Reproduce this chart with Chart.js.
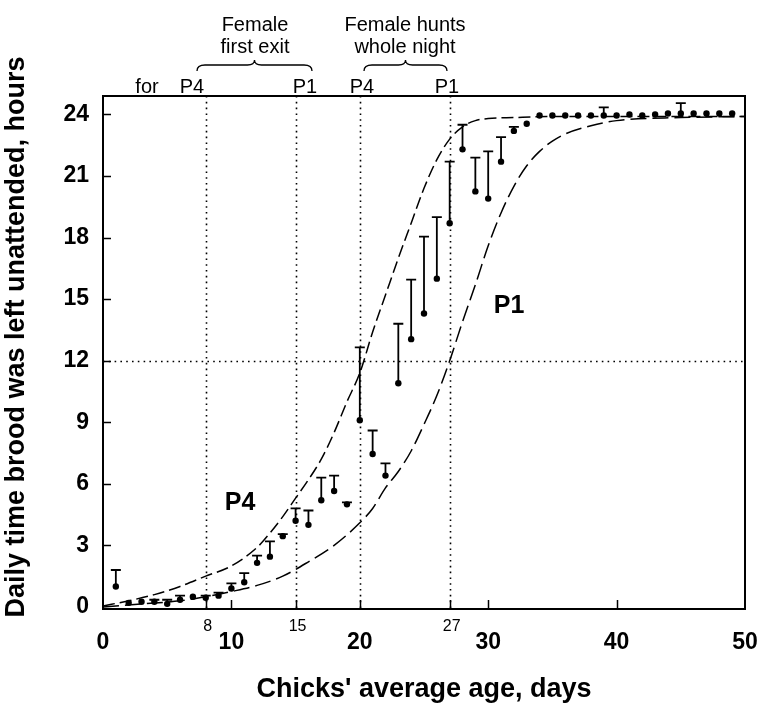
<!DOCTYPE html>
<html>
<head>
<meta charset="utf-8">
<script src="https://cdn.jsdelivr.net/npm/chart.js@4.4.1/dist/chart.umd.min.js"></script>
<style>
  html, body { margin: 0; padding: 0; background: #fff; }
  canvas { display: block; }
</style>
</head>
<body>
<canvas id="broodChart" width="757" height="706"></canvas>
<script>
// observed daily means and upper error bars (hours), one per day of chick age
const days = [1, 2, 3, 4, 5, 6, 7, 8, 9, 10, 11, 12, 13, 14, 15, 16, 17, 18, 19, 20,
  21, 22, 23, 24, 25, 26, 27, 28, 29, 30, 31, 32, 33, 34, 35, 36, 37, 38, 39, 40,
  41, 42, 43, 44, 45, 46, 47, 48, 49];
const meanHours = [1.0, 0.2, 0.25, 0.25, 0.15, 0.35, 0.5, 0.45, 0.55, 0.9,
  1.2, 2.15, 2.45, 3.45, 4.2, 4.0, 5.2, 5.65, 5.0, 9.1,
  7.45, 6.4, 10.9, 13.05, 14.3, 16.0, 18.7, 22.3, 20.25, 19.9,
  21.7, 23.2, 23.55, 23.95, 23.95, 23.95, 23.95, 23.95, 23.95, 23.95,
  24.0, 23.95, 24.0, 24.05, 24.05, 24.05, 24.05, 24.05, 24.05];
const upperHours = [1.8, null, null, 0.35, 0.35, 0.55, null, 0.55, 0.7, 1.15,
  1.65, 2.5, 3.2, 3.55, 4.8, 4.7, 6.3, 6.4, 5.1, 12.65,
  8.6, 7.0, 13.8, 15.95, 18.05, 19.0, 21.7, 23.5, 21.9, 22.2,
  22.9, 23.4, null, null, null, null, null, null, 24.35, null,
  null, null, null, null, 24.55, null, null, null, null];

// dashed curves for the two broods
const p4Days = [0, 2, 4, 6, 8, 10, 12, 13, 14, 15, 16, 17, 18, 19, 20, 21, 22, 23, 24, 25,
  26, 27, 28, 29, 30, 32, 35, 40, 45, 50];
const p4Hours = [0.05, 0.3, 0.6, 1.0, 1.5, 2.0, 2.9, 3.6, 4.4, 5.3, 6.2, 7.2, 8.5, 10.0, 11.4, 13.4, 15.2, 17.0, 18.7, 20.4,
  21.8, 22.8, 23.4, 23.7, 23.8, 23.85, 23.9, 23.9, 23.9, 23.9];
const p1Days = [0, 3, 6, 8, 10, 12, 14, 16, 18, 20, 21, 22, 23, 24, 25, 26, 27, 28, 29, 30,
  31, 32, 33, 34, 35, 36, 38, 40, 45, 50];
const p1Hours = [0.0, 0.15, 0.3, 0.5, 0.75, 1.05, 1.5, 2.2, 3.0, 4.1, 4.8, 5.8, 6.6, 7.6, 8.9, 10.3, 12.0, 13.9, 15.7, 17.6,
  19.2, 20.5, 21.5, 22.2, 22.7, 23.05, 23.45, 23.7, 23.85, 23.9];

// reference lines and extra axis marks
const markedDays = [8, 15, 20, 27];
const markedDayLabels = ['8', '15', '', '27'];
const halfDayHours = 12;
const extraTickDays = [8, 10, 15, 20, 27, 30, 40];

const FONT = '"Liberation Sans", Arial, Helvetica, sans-serif';

const toPoints = (xs, ys) => xs.map((x, i) => ({ x: x, y: ys[i] }));

const decorations = {
  id: 'decorations',
  beforeDatasetsDraw(chart) {
    const { ctx, chartArea: area, scales: { x, y } } = chart;
    ctx.save();
    // dotted reference lines
    ctx.strokeStyle = '#000';
    ctx.lineWidth = 1.6;
    ctx.setLineDash([1.6, 4.2]);
    markedDays.forEach(d => {
      const px = Math.round(x.getPixelForValue(d)) + 0.5;
      ctx.beginPath();
      ctx.moveTo(px, area.top);
      ctx.lineTo(px, area.bottom);
      ctx.stroke();
    });
    const py = Math.round(y.getPixelForValue(halfDayHours)) + 0.5;
    ctx.beginPath();
    ctx.moveTo(area.left, py);
    ctx.lineTo(area.right, py);
    ctx.stroke();
    ctx.setLineDash([]);

    // error bars (upper side only)
    ctx.lineWidth = 1.8;
    days.forEach((d, i) => {
      const up = upperHours[i];
      if (up == null) return;
      const px = x.getPixelForValue(d);
      const y0 = y.getPixelForValue(meanHours[i]);
      const y1 = y.getPixelForValue(up);
      ctx.beginPath();
      ctx.moveTo(px, y0);
      ctx.lineTo(px, y1);
      ctx.moveTo(px - 5, y1);
      ctx.lineTo(px + 5, y1);
      ctx.stroke();
    });
    ctx.restore();
  },
  afterDatasetsDraw(chart) {
    const { ctx, chartArea: area, scales: { x, y } } = chart;
    ctx.save();
    ctx.strokeStyle = '#000';
    ctx.fillStyle = '#000';

    // frame
    ctx.lineWidth = 2;
    ctx.strokeRect(area.left, area.top, area.right - area.left, area.bottom - area.top);

    // inward ticks
    ctx.lineWidth = 1.5;
    y.ticks.forEach(t => {
      if (t.value <= 0) return;
      const py = Math.round(y.getPixelForValue(t.value)) + 0.5;
      ctx.beginPath();
      ctx.moveTo(area.left, py);
      ctx.lineTo(area.left + 8, py);
      ctx.stroke();
    });
    extraTickDays.forEach(d => {
      const px = Math.round(x.getPixelForValue(d)) + 0.5;
      ctx.beginPath();
      ctx.moveTo(px, area.bottom);
      ctx.lineTo(px, area.bottom - 9);
      ctx.stroke();
    });

    // small labels under the axis for the marked days
    ctx.font = '16px ' + FONT;
    ctx.textAlign = 'center';
    ctx.textBaseline = 'middle';
    markedDays.forEach((d, i) => {
      if (!markedDayLabels[i]) return;
      ctx.fillText(markedDayLabels[i], x.getPixelForValue(d) + 2, 627);
    });

    // curve labels
    ctx.font = 'bold 25px ' + FONT;
    ctx.fillText('P4', 240, 503);
    ctx.fillText('P1', 509, 306);

    // annotations above the plot
    ctx.font = '20px ' + FONT;
    ctx.textBaseline = 'alphabetic';
    ctx.fillText('for', 147, 93);
    ctx.fillText('P4', 192, 93);
    ctx.fillText('P1', 305, 93);
    ctx.fillText('P4', 362, 93);
    ctx.fillText('P1', 447, 93);
    ctx.fillText('Female', 255, 31);
    ctx.fillText('first exit', 255, 53);
    ctx.fillText('Female hunts', 405, 31);
    ctx.fillText('whole night', 405, 53);

    const brace = (x1, x2) => {
      const mid = (x1 + x2) / 2;
      ctx.beginPath();
      ctx.moveTo(x1, 71);
      ctx.quadraticCurveTo(x1, 65, x1 + 8, 65);
      ctx.lineTo(mid - 7, 65);
      ctx.quadraticCurveTo(mid, 65, mid, 60);
      ctx.quadraticCurveTo(mid, 65, mid + 7, 65);
      ctx.lineTo(x2 - 8, 65);
      ctx.quadraticCurveTo(x2, 65, x2, 71);
      ctx.stroke();
    };
    ctx.lineWidth = 1.3;
    brace(197, 312);
    brace(364, 447);

    // axis titles
    ctx.font = 'bold 27px ' + FONT;
    ctx.textBaseline = 'middle';
    ctx.fillText("Chicks' average age, days", (area.left + area.right) / 2, 690);
    ctx.translate(17, 337);
    ctx.rotate(-Math.PI / 2);
    ctx.fillText('Daily time brood was left unattended, hours', 0, 0);
    ctx.restore();
  }
};

const tickFont = { family: FONT, size: 23, weight: 'bold' };

new Chart(document.getElementById('broodChart').getContext('2d'), {
  type: 'scatter',
  data: {
    datasets: [
      {
        label: 'P4',
        type: 'line',
        data: toPoints(p4Days, p4Hours),
        borderColor: '#000',
        borderWidth: 1.5,
        borderDash: [12, 5],
        pointRadius: 0,
        cubicInterpolationMode: 'monotone',
        fill: false
      },
      {
        label: 'P1',
        type: 'line',
        data: toPoints(p1Days, p1Hours),
        borderColor: '#000',
        borderWidth: 1.5,
        borderDash: [16, 6],
        pointRadius: 0,
        cubicInterpolationMode: 'monotone',
        fill: false
      },
      {
        label: 'Observed',
        data: toPoints(days, meanHours),
        backgroundColor: '#000',
        borderColor: '#000',
        pointRadius: 3.2,
        pointBorderWidth: 0
      }
    ]
  },
  options: {
    responsive: false,
    animation: false,
    events: [],
    layout: { padding: { top: 96, right: 12, left: 0, bottom: 0 } },
    plugins: {
      legend: { display: false },
      tooltip: { enabled: false }
    },
    scales: {
      x: {
        type: 'linear',
        min: 0,
        max: 50,
        grid: { display: false, drawTicks: false },
        border: { display: false },
        ticks: { stepSize: 10, color: '#000', font: tickFont, padding: 20, maxRotation: 0 },
        afterFit(scale) {
          scale.height = 97;
          scale.paddingLeft = 0;
          scale.paddingRight = 0;
        }
      },
      y: {
        type: 'linear',
        min: -0.1,
        max: 24.9,
        grid: { display: false, drawTicks: false },
        border: { display: false },
        ticks: { stepSize: 3, includeBounds: false, color: '#000', font: tickFont, padding: 14 },
        afterFit(scale) {
          scale.width = 103;
          scale.paddingTop = 0;
          scale.paddingBottom = 0;
        }
      }
    }
  },
  plugins: [decorations]
});
</script>
</body>
</html>
